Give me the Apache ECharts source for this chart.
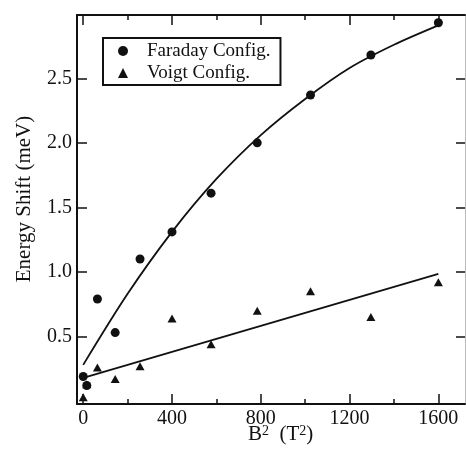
<!DOCTYPE html>
<html>
<head>
<meta charset="utf-8">
<script src="https://cdn.jsdelivr.net/npm/echarts@6/dist/echarts.min.js"></script>
<style>
  html, body { margin: 0; padding: 0; background: #fff; }
  #chart { width: 466px; height: 459px; }
</style>
</head>
<body>
<div id="chart"></div>
<script>
  // measured points (B^2 in T^2, shift in meV)
  const b2Values = [0, 16, 64, 144, 256, 400, 576, 784, 1024, 1296, 1600]
  const faradayShift = [0.19, 0.12, 0.79, 0.53, 1.10, 1.31, 1.61, 2.00, 2.37, 2.68, 2.93]
  const voigtShift = [0.03, 0.13, 0.26, 0.17, 0.27, 0.64, 0.44, 0.70, 0.85, 0.65, 0.92]

  // fit curves
  const faradayFitB2 = [0, 200, 400, 600, 800, 1000, 1200, 1400, 1600]
  const faradayFit = [0.28, 0.83, 1.31, 1.72, 2.06, 2.34, 2.58, 2.76, 2.91]
  const voigtFitB2 = [0, 1600]
  const voigtFit = [0.18, 0.985]

  const xMajorTicks = [0, 400, 800, 1200, 1600]
  const xMinorTicks = [200, 600, 1000, 1400]
  const yTicks = [0.5, 1.0, 1.5, 2.0, 2.5]

  const serif = '"Liberation Serif", "DejaVu Serif", serif'
  const X_MIN = -28, X_MAX = 1720
  const Y_MIN = -0.023, Y_MAX = 2.99

  const pairs = (xs, ys) => xs.map((x, i) => [x, ys[i]])

  const xAx = (pos, ticks, len, withLine, withLabel) => ({
    type: 'value',
    position: pos,
    min: X_MIN,
    max: X_MAX,
    splitLine: { show: false },
    axisLine: { show: withLine, onZero: false, lineStyle: { color: '#111', width: 2 } },
    axisTick: { show: true, inside: true, length: len, customValues: ticks, lineStyle: { color: '#111', width: 1.5 } },
    axisLabel: {
      show: withLabel,
      customValues: xMajorTicks,
      margin: 5,
      color: '#111',
      fontFamily: serif,
      fontSize: 20,
      formatter: v => String(v)
    }
  })

  const chart = echarts.init(document.getElementById('chart'))
  const option = {
    backgroundColor: '#fff',
    animation: false,
    grid: { left: 77, top: 15, right: 1, bottom: 55, containLabel: false },
    legend: {
      orient: 'vertical',
      left: 103,
      top: 38,
      data: ['Faraday Config.', 'Voigt Config.'],
      itemWidth: 10,
      itemHeight: 10,
      itemGap: 2,
      padding: [3, 10, 2, 15],
      borderColor: '#111',
      borderWidth: 2,
      textStyle: { fontFamily: serif, fontSize: 19, color: '#111', lineHeight: 20, padding: [0, 0, 0, 14] }
    },
    xAxis: [
      xAx('bottom', xMajorTicks, 10, true, true),
      xAx('bottom', xMinorTicks, 5, false, false),
      xAx('top', xMajorTicks, 10, true, false),
      xAx('top', xMinorTicks, 5, false, false)
    ],
    yAxis: [
      {
        type: 'value',
        position: 'left',
        min: Y_MIN,
        max: Y_MAX,
        splitLine: { show: false },
        axisLine: { show: true, onZero: false, lineStyle: { color: '#111', width: 2 } },
        axisTick: { inside: true, length: 10, customValues: yTicks, lineStyle: { color: '#111', width: 1.5 } },
        axisLabel: {
          customValues: yTicks,
          margin: 5,
          color: '#111',
          fontFamily: serif,
          fontSize: 20,
          formatter: v => v.toFixed(1)
        }
      },
      {
        type: 'value',
        position: 'right',
        min: Y_MIN,
        max: Y_MAX,
        splitLine: { show: false },
        axisLine: { show: true, onZero: false, lineStyle: { color: '#bbb', width: 1 } },
        axisTick: { inside: true, length: 9, customValues: yTicks, lineStyle: { color: '#111', width: 1.5 } },
        axisLabel: { show: false }
      }
    ],
    graphic: [
      {
        type: 'text',
        x: 24,
        y: 199,
        rotation: Math.PI / 2,
        style: {
          text: 'Energy Shift (meV)',
          fontFamily: serif,
          fontSize: 21,
          fill: '#111',
          align: 'center',
          verticalAlign: 'middle'
        }
      },
      {
        type: 'text',
        x: 248,
        y: 424,
        style: {
          text: 'B{sup|2}  (T{sup|2})',
          fontFamily: serif,
          fontSize: 21,
          fill: '#111',
          rich: {
            sup: { fontFamily: serif, fontSize: 14, verticalAlign: 'top', fill: '#111' }
          }
        }
      }
    ],
    series: [
      {
        name: 'Faraday fit',
        type: 'line',
        data: pairs(faradayFitB2, faradayFit),
        smooth: 0.3,
        showSymbol: false,
        lineStyle: { color: '#111', width: 1.8 },
        z: 2
      },
      {
        name: 'Voigt fit',
        type: 'line',
        data: pairs(voigtFitB2, voigtFit),
        showSymbol: false,
        lineStyle: { color: '#111', width: 1.8 },
        z: 2
      },
      {
        name: 'Faraday Config.',
        type: 'scatter',
        symbol: 'circle',
        symbolSize: 9,
        itemStyle: { color: '#111', opacity: 1 },
        data: pairs(b2Values, faradayShift),
        z: 3
      },
      {
        name: 'Voigt Config.',
        type: 'scatter',
        symbol: 'triangle',
        symbolSize: [9, 8],
        itemStyle: { color: '#111', opacity: 1 },
        data: pairs(b2Values, voigtShift),
        z: 3
      }
    ]
  }
  option && chart.setOption(option)
</script>
</body>
</html>
